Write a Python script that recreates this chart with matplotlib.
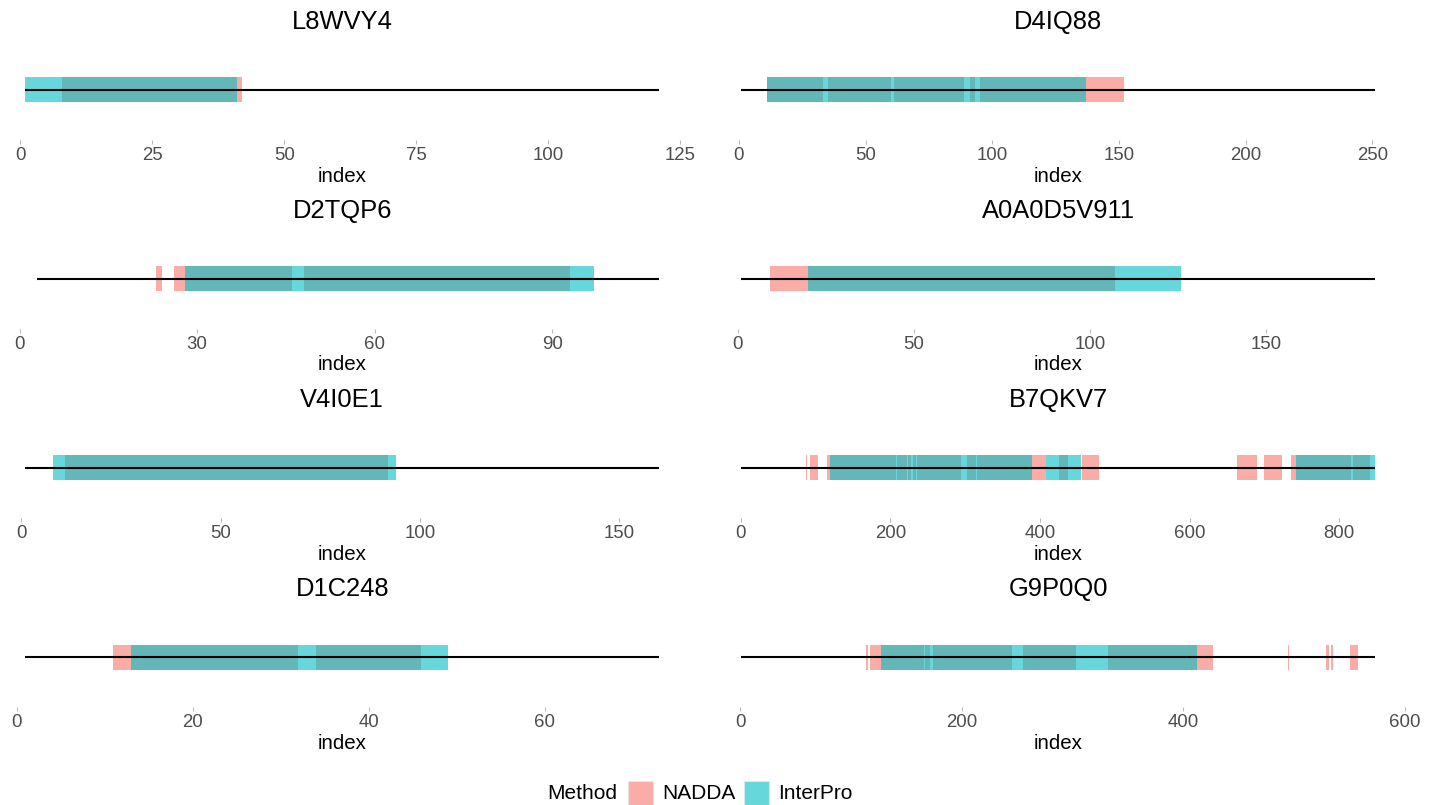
import matplotlib
matplotlib.use("Agg")
import matplotlib.pyplot as plt
from matplotlib.patches import Rectangle
import numpy as np

plt.rcParams['font.family'] = ['Liberation Sans', 'DejaVu Sans']

# ---------------- data ----------------
proteins = ["L8WVY4", "D4IQ88", "D2TQP6", "A0A0D5V911",
            "V4I0E1", "B7QKV7", "D1C248", "G9P0Q0"]
seq_length = [121, 251, 108, 181, 160, 848, 73, 573]
line_start = [1, 1, 3, 1, 1, 1, 1, 1]
tick_step = [25, 50, 30, 50, 50, 200, 20, 200]

nadda = [
    [(8, 42)],
    [(11, 33), (35, 60), (61, 89), (91, 93), (95, 152)],
    [(23, 24), (26, 46), (48, 93)],
    [(9, 107)],
    [(11, 92)],
    [(87, 88), (92, 103), (116, 207), (209, 222), (224, 227), (230, 234),
     (236, 295), (302, 314), (316, 408), (425, 438), (456, 479), (647, 648),
     (663, 690), (700, 724), (736, 816), (818, 841)],
    [(11, 32), (34, 46)],
    [(113, 115), (117, 166), (167, 171), (174, 245), (255, 303), (332, 427),
     (494, 495), (529, 531), (533, 535), (550, 558)],
]
interpro = [
    [(1, 41)],
    [(11, 137)],
    [(28, 97)],
    [(20, 126)],
    [(8, 94)],
    [(120, 390), (408, 455), (743, 848)],
    [(13, 49)],
    [(127, 412)],
]
methods = ["NADDA", "InterPro"]
method_colors = ["#F8766D", "#00BFC4"]
ALPHA = 0.6

# ---------------- layout ----------------
W, H = 1434, 805
fig = plt.figure(figsize=(W / 100, H / 100), dpi=100)

col_x = [(-6.2, 690.7), (709.8, 1406.7)]   # axes pixel extents
row_line_y = [90, 279, 468, 657]            # pixel y of the black line
half_h = 50                                  # axes half height (px)

for i, name in enumerate(proteins):
    r, c = divmod(i, 2)
    x0, x1 = col_x[c]
    yl = row_line_y[r]
    ax = fig.add_axes([x0 / W, (H - (yl + half_h)) / H,
                       (x1 - x0) / W, 2 * half_h / H])
    L = seq_length[i]
    lo = 1
    pad = 0.05 * (L - lo)
    ax.set_xlim(lo - pad, L + pad)
    ax.set_ylim(-1, 1)

    for (s, e) in nadda[i]:
        ax.add_patch(Rectangle((s, -0.25), e - s, 0.5, facecolor=method_colors[0],
                               alpha=ALPHA, edgecolor='none', zorder=2))
    for (s, e) in interpro[i]:
        ax.add_patch(Rectangle((s, -0.25), e - s, 0.5, facecolor=method_colors[1],
                               alpha=ALPHA, edgecolor='none', zorder=3))
    ax.plot([line_start[i], L], [0, 0], color='black', lw=1.5, zorder=4,
            solid_capstyle='butt')

    ticks = np.arange(0, L + pad + 1e-9, tick_step[i])
    ax.set_xticks(ticks)
    ax.set_xticklabels([f"{int(t)}" for t in ticks])
    ax.tick_params(axis='x', length=3, width=0.8, color='#BBBBBB',
                   labelsize=13.4, labelcolor='#4D4D4D', pad=2)
    ax.set_yticks([])
    for sp in ax.spines.values():
        sp.set_visible(False)
    ax.set_xlabel("index", fontsize=14.8, color='black')
    ax.xaxis.set_label_coords(0.5, -0.36)
    ax.xaxis.label.set_va('center')
    ax.text(0.5, 1.18, name, transform=ax.transAxes, ha='center',
            va='center', fontsize=18.4, color='black')

# ---------------- legend ----------------
ly = 793
fig.text(547 / W, (H - ly) / H, "Method", ha='left', va='center',
         fontsize=15, color='black')
key_x = [628, 744]
lab_x = [662, 778]
for k in range(2):
    fig.patches.append(Rectangle((key_x[k] / W, (H - 805) / H), 25 / W, 24 / H,
                                 transform=fig.transFigure, facecolor=method_colors[k],
                                 alpha=ALPHA, edgecolor='#EBEBEB', lw=0.8))
    fig.text(lab_x[k] / W, (H - ly) / H, methods[k], ha='left', va='center',
             fontsize=15, color='black')

fig.savefig("out.png", dpi=100, facecolor='white')
